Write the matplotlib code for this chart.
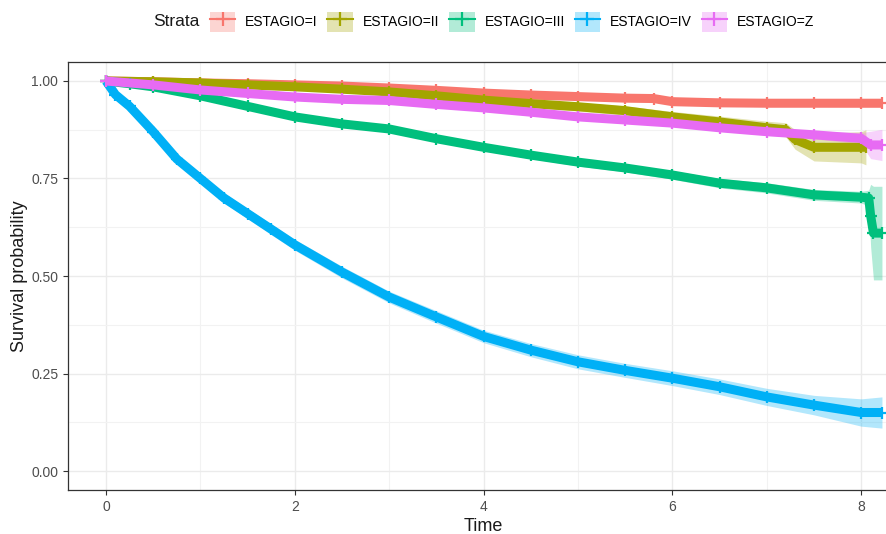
import numpy as np
import matplotlib
matplotlib.use('Agg')
import matplotlib.pyplot as plt
from matplotlib.patches import Patch
from matplotlib.lines import Line2D

# survival estimates (time in years)
strata = ['ESTAGIO=I', 'ESTAGIO=II', 'ESTAGIO=III', 'ESTAGIO=IV', 'ESTAGIO=Z']
colors = ['#F8766D', '#A3A500', '#00BF7D', '#00B0F6', '#E76BF3']

t_I = [0, 0.5, 1, 1.5, 2, 2.5, 3, 3.5, 4, 4.5, 5, 5.5, 5.8, 6, 6.5, 7, 7.5, 8, 8.22]
s_I = [1, .998, .995, .993, .99, .987, .982, .976, .969, .964, .96, .956, .955, .947, .944, .943, .943, .943, .943]
ci_I = [0, .002, .003, .003, .004, .004, .005, .005, .006, .006, .007, .007, .007, .008, .008, .009, .009, .01, .01]

t_II = [0, 0.5, 1, 1.5, 2, 2.5, 3, 3.5, 4, 4.5, 5, 5.5, 6, 6.5, 7, 7.2, 7.3, 7.5, 8, 8.05]
s_II = [1, .998, .995, .99, .985, .979, .972, .962, .951, .942, .934, .924, .908, .895, .88, .875, .85, .83, .83, .83]
ci_II = [0, .002, .003, .004, .005, .006, .007, .008, .009, .01, .011, .012, .014, .015, .017, .018, .025, .035, .04, .045]

t_III = [0, .25, .5, 1, 1.5, 2, 2.5, 3, 3.5, 4, 4.5, 5, 5.5, 6, 6.5, 7, 7.5, 8, 8.08, 8.1, 8.13, 8.22]
s_III = [1, .993, .985, .962, .935, .908, .89, .877, .852, .83, .81, .792, .777, .759, .738, .726, .708, .702, .70, .655, .61, .61]
ci_III = [0, .002, .003, .005, .006, .007, .007, .008, .008, .009, .009, .01, .01, .011, .012, .013, .014, .015, .02, .08, .12, .12]

t_IV = [0, .1, .25, .5, .75, 1, 1.25, 1.5, 1.75, 2, 2.5, 3, 3.5, 4, 4.5, 5, 5.5, 6, 6.5, 7, 7.5, 8, 8.22]
s_IV = [1, .965, .935, .87, .80, .75, .70, .66, .62, .58, .51, .446, .395, .345, .31, .28, .258, .238, .216, .19, .169, .15, .15]
ci_IV = [0, .005, .007, .01, .011, .012, .013, .013, .014, .014, .015, .015, .016, .016, .017, .018, .018, .019, .02, .022, .025, .035, .04]

t_Z = [0, .5, 1, 1.5, 2, 2.5, 3, 3.5, 4, 4.5, 5, 5.5, 6, 6.5, 7, 7.5, 8, 8.1, 8.22]
s_Z = [1, .99, .977, .968, .959, .953, .95, .94, .931, .92, .908, .90, .892, .88, .87, .862, .853, .836, .836]
ci_Z = [0, .002, .003, .003, .004, .004, .004, .005, .005, .006, .006, .007, .007, .008, .009, .01, .015, .035, .04]

series = [(t_I, s_I, ci_I), (t_II, s_II, ci_II), (t_III, s_III, ci_III),
          (t_IV, s_IV, ci_IV), (t_Z, s_Z, ci_Z)]

plt.rcParams['font.family'] = ['Liberation Sans', 'DejaVu Sans']

fig = plt.figure(figsize=(8.87, 5.34), dpi=100)
ax = fig.add_axes([68/887, 44/534, (898-68)/887, (490-62)/534])

for (t, s, ci), c in zip(series, colors):
    t = np.array(t); s = np.array(s); ci = np.array(ci)
    ax.fill_between(t, s - ci, np.minimum(s + ci, 1), color=c, alpha=0.3, lw=0)
for (t, s, ci), c in zip(series, colors):
    ax.plot(t, s, color=c, lw=6.5, solid_capstyle='butt')
    ax.plot(t, s, color=c, lw=1.5, ls='none', marker='+', ms=9, mew=1.6)

ax.set_xlim(-0.4025, 8.39)
ax.set_ylim(-0.0487, 1.0487)
ax.set_xticks([0, 2, 4, 6, 8])
ax.set_xticks([1, 3, 5, 7], minor=True)
ax.set_yticks([0, .25, .5, .75, 1])
ax.set_yticklabels(['0.00', '0.25', '0.50', '0.75', '1.00'])
ax.set_yticks([.125, .375, .625, .875], minor=True)
ax.grid(which='major', color='#ebebeb', lw=1.0)
ax.grid(which='minor', color='#f2f2f2', lw=0.8)
ax.set_axisbelow(True)
ax.tick_params(which='major', length=3.5, color='#333333', labelsize=10, labelcolor='#4d4d4d')
ax.tick_params(which='minor', length=0)
for sp in ax.spines.values():
    sp.set_color('#333333')
    sp.set_linewidth(0.9)

ax.set_xlabel('Time', fontsize=13, color='#1a1a1a', labelpad=3)
ax.set_ylabel('Survival probability', fontsize=13, color='#1a1a1a', labelpad=2)

handles = [(Patch(facecolor=c, alpha=0.3, edgecolor='none'),
            Line2D([], [], color=c, lw=1.5, marker='+', ms=10, mew=1.6)) for c in colors]
fig.text(153/887, 1 - 22/534, 'Strata', fontsize=12.5, color='#1a1a1a', va='center', ha='left')
fig.legend(handles, strata, loc='center', bbox_to_anchor=(512/887, 1 - 22/534), ncol=5,
           frameon=False, fontsize=10, handlelength=1.85, handleheight=1.85,
           handletextpad=0.7, columnspacing=0.7, borderpad=0)

fig.savefig('out.png', dpi=100)
